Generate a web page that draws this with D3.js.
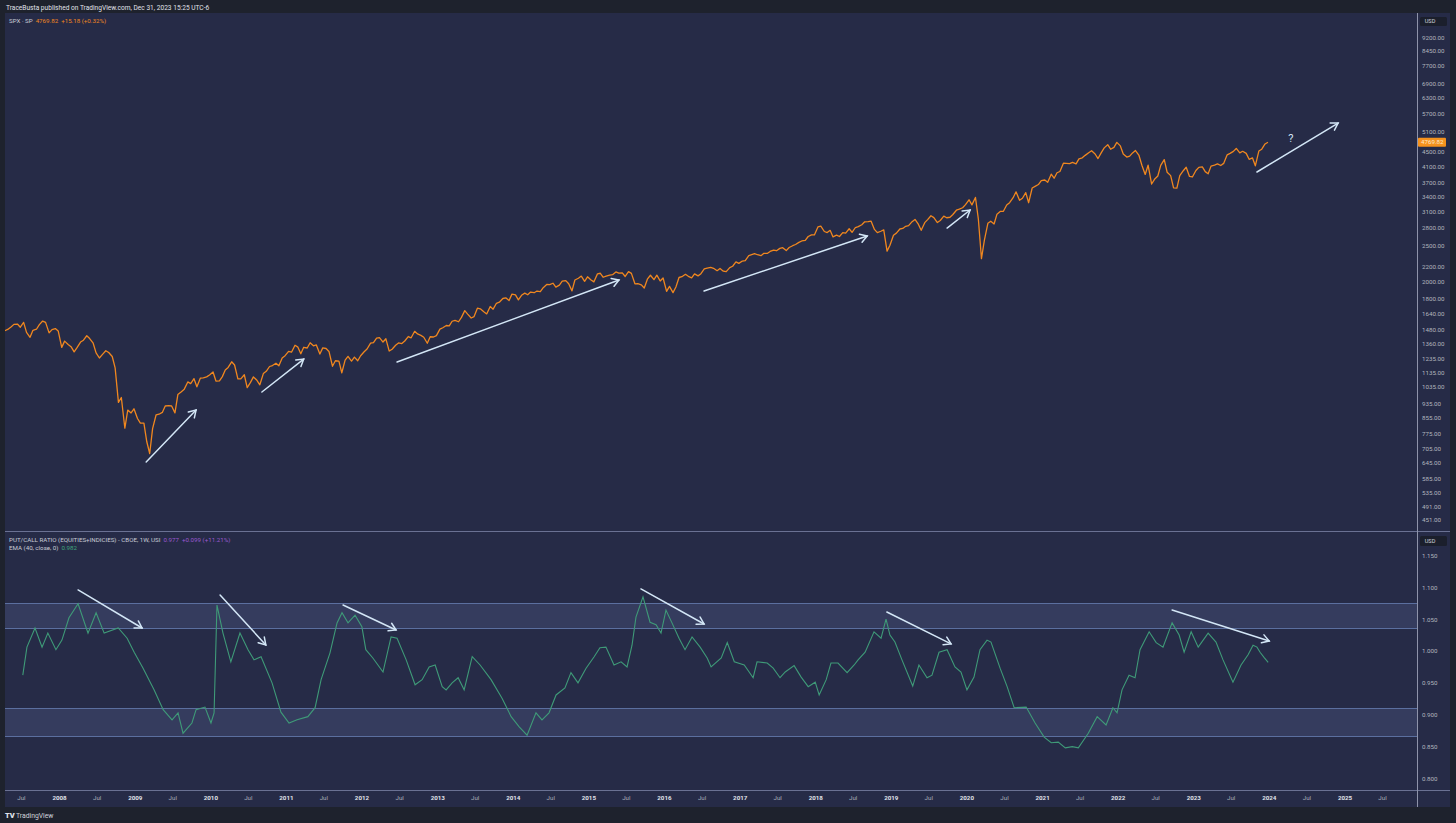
<!DOCTYPE html>
<html><head><meta charset="utf-8">
<script src="https://cdn.jsdelivr.net/npm/d3@7"></script>
<style>
html,body{margin:0;padding:0;background:#1e222d;overflow:hidden;}
svg{display:block;font-family:Roboto,"Open Sans",sans-serif;}
</style></head><body>
<svg id="c" width="1456" height="823"></svg>
<script>
// ---------- DATA ----------
// S&P 500 closes, two per month (mid-month, month-end); 2007 starts in April
const spx2007 = [1470,1482,1505,1530,1533,1503,1549,1455,1411,1474,1484,1527,1562,1549,1451,1481,1490,1468];
const spx2008 = [1325,1378,1350,1331,1288,1323,1370,1386,1425,1400,1360,1280,1240,1267,1298,1283,1252,1166,940,969,800,896,880,903];
const spx2009 = [850,826,826,735,683,798,870,873,883,919,921,919,880,987,1005,1021,1068,1057,1090,1036,1094,1096,1102,1115];
const spx2010 = [1136,1074,1075,1104,1150,1169,1211,1187,1088,1089,1117,1031,1065,1102,1079,1049,1125,1141,1176,1183,1200,1181,1240,1258];
const spx2011 = [1293,1286,1343,1327,1273,1326,1320,1364,1338,1345,1271,1321,1316,1292,1178,1219,1216,1131,1224,1253,1216,1247,1219,1258];
const spx2012 = [1289,1312,1361,1366,1404,1408,1370,1398,1295,1310,1343,1362,1357,1379,1418,1407,1465,1441,1428,1412,1360,1416,1414,1426];
const spx2013 = [1485,1498,1519,1515,1560,1569,1555,1598,1667,1631,1592,1606,1692,1686,1656,1633,1710,1682,1745,1757,1798,1806,1775,1848];
const spx2014 = [1839,1783,1838,1859,1841,1872,1864,1884,1878,1924,1963,1960,1978,1931,1955,2003,2010,1972,1886,2018,2040,2068,2002,2059];
const spx2015 = [2019,1995,2097,2105,2053,2068,2081,2086,2123,2107,2110,2063,2127,2104,1971,1972,1958,1920,2033,2079,2023,2080,2005,2044];
const spx2016 = [1880,1940,1865,1932,2050,2060,2091,2065,2046,2097,2071,2099,2162,2174,2184,2171,2139,2168,2133,2126,2181,2199,2259,2239];
const spx2017 = [2272,2279,2351,2364,2378,2363,2349,2384,2382,2412,2433,2423,2459,2470,2425,2472,2500,2519,2553,2575,2585,2648,2675,2674];
const spx2018 = [2810,2824,2732,2714,2752,2641,2670,2648,2712,2705,2779,2718,2801,2816,2850,2902,2904,2914,2768,2712,2736,2760,2417,2507];
const spx2019 = [2670,2704,2775,2784,2822,2834,2905,2946,2860,2752,2887,2942,3014,2980,2889,2926,3007,2977,2986,3038,3120,3141,3169,3231];
const spx2020 = [3330,3226,3380,2954,2305,2585,2875,2912,2864,3044,3098,3100,3225,3271,3373,3500,3320,3363,3484,3270,3585,3622,3663,3756];
const spx2021 = [3768,3714,3907,3811,3943,3973,4185,4181,4174,4204,4166,4298,4327,4395,4468,4523,4433,4308,4471,4605,4698,4567,4620,4766];
const spx2022 = [4662,4432,4348,4374,4463,4530,4392,4132,3901,4132,3675,3785,3863,4130,4280,3955,3873,3586,3583,3872,3993,4080,3852,3840];
const spx2023 = [3999,4077,4090,3970,3917,4109,4137,4169,4124,4180,4410,4450,4505,4589,4464,4508,4450,4288,4328,4117,4514,4568,4719,4769.82];
const spxYears = [2007,2008,2009,2010,2011,2012,2013,2014,2015,2016,2017,2018,2019,2020,2021,2022,2023];
const spxSeries = [spx2007,spx2008,spx2009,spx2010,spx2011,spx2012,spx2013,spx2014,spx2015,spx2016,spx2017,spx2018,spx2019,spx2020,spx2021,spx2022,spx2023];

// EMA(40) of the CBOE put/call ratio
const pcDates = ["2007-07-10","2007-07-30","2007-09-07","2007-10-11","2007-11-08","2007-12-17","2008-01-15","2008-02-18","2008-04-02","2008-05-20","2008-06-28","2008-08-06","2008-10-13","2008-11-25","2008-12-29","2009-02-10","2009-04-04","2009-05-18","2009-06-30","2009-07-29","2009-08-22","2009-10-04","2009-10-24","2009-12-06","2010-01-04","2010-01-19","2010-02-02","2010-03-03","2010-04-10","2010-05-24","2010-07-02","2010-07-31","2010-09-03","2010-10-26","2010-12-08","2011-01-16","2011-02-24","2011-04-17","2011-05-22","2011-06-20","2011-08-02","2011-09-05","2011-09-29","2011-10-28","2011-12-01","2012-01-03","2012-01-22","2012-02-25","2012-04-14","2012-05-23","2012-06-21","2012-08-04","2012-09-16","2012-10-20","2012-11-23","2012-12-22","2013-01-25","2013-02-13","2013-03-14","2013-04-12","2013-05-11","2013-06-19","2013-07-27","2013-09-18","2013-11-10","2013-12-24","2014-02-01","2014-03-11","2014-04-23","2014-05-22","2014-06-25","2014-07-29","2014-09-10","2014-10-09","2014-11-12","2014-12-21","2015-01-29","2015-02-26","2015-03-27","2015-05-05","2015-06-08","2015-07-07","2015-07-31","2015-08-19","2015-09-22","2015-10-26","2015-11-24","2015-12-18","2016-01-11","2016-02-09","2016-03-14","2016-04-12","2016-05-16","2016-06-24","2016-07-28","2016-08-16","2016-10-04","2016-11-02","2016-12-06","2017-01-23","2017-03-07","2017-03-26","2017-05-14","2017-06-12","2017-07-15","2017-08-09","2017-09-21","2017-10-25","2017-11-28","2018-01-01","2018-01-20","2018-02-23","2018-03-18","2018-04-21","2018-06-04","2018-07-08","2018-07-27","2018-08-30","2018-10-12","2018-11-15","2018-12-09","2018-12-28","2019-01-21","2019-02-24","2019-04-17","2019-05-17","2019-06-25","2019-07-19","2019-08-22","2019-09-30","2019-11-07","2019-12-06","2020-01-04","2020-02-07","2020-03-07","2020-04-10","2020-04-29","2020-06-12","2020-07-16","2020-08-19","2020-10-16","2020-11-28","2021-01-11","2021-02-14","2021-03-20","2021-04-23","2021-05-27","2021-06-25","2021-08-12","2021-09-24","2021-11-06","2021-12-09","2021-12-29","2022-01-22","2022-02-25","2022-03-26","2022-04-19","2022-06-02","2022-07-06","2022-08-08","2022-09-21","2022-10-25","2022-11-18","2022-12-22","2023-01-25","2023-03-14","2023-04-21","2023-05-25","2023-07-12","2023-08-20","2023-09-23","2023-10-17","2023-11-05","2023-11-20","2023-12-09","2023-12-29"];
const pcValues = [0.962,1.006,1.036,1.006,1.028,1.002,1.017,1.052,1.074,1.028,1.060,1.028,1.036,1.020,0.998,0.973,0.939,0.908,0.892,0.903,0.871,0.887,0.908,0.912,0.887,0.903,1.072,1.028,0.983,1.028,1.002,0.986,0.991,0.950,0.904,0.887,0.892,0.897,0.911,0.955,0.997,1.044,1.060,1.044,1.056,1.038,1.002,0.989,0.967,1.022,1.020,0.986,0.947,0.955,0.975,0.978,0.944,0.939,0.950,0.958,0.939,0.991,0.978,0.955,0.926,0.897,0.881,0.868,0.903,0.892,0.903,0.931,0.942,0.966,0.950,0.973,0.991,1.005,1.006,0.978,0.983,0.975,1.009,1.053,1.085,1.045,1.041,1.028,1.064,1.044,1.020,1.002,1.022,1.006,0.989,0.975,0.989,1.013,0.983,0.978,0.958,0.983,0.981,0.973,0.958,0.967,0.977,0.959,0.944,0.951,0.931,0.955,0.981,0.981,0.966,0.978,0.986,0.998,1.030,1.020,1.050,1.025,1.014,0.986,0.945,0.978,0.958,0.962,0.998,1.002,0.975,0.967,0.939,0.959,1.002,1.017,1.014,0.973,0.944,0.911,0.912,0.887,0.865,0.856,0.857,0.848,0.850,0.848,0.871,0.897,0.884,0.911,0.903,0.939,0.962,0.958,1.002,1.030,1.013,1.006,1.044,1.025,0.998,1.030,1.006,1.028,1.014,0.986,0.951,0.978,0.994,1.009,1.006,0.998,0.990,0.982];

// shaded zones on the put/call pane [low, high]
const pcZones = [[1.036, 1.075], [0.866, 0.910]];

// tick labels
const spxTicks = [451,491,535,585,645,705,775,855,935,1035,1135,1235,1360,1480,1640,1800,2000,2200,2500,2800,3100,3400,3700,4100,4500,5100,5700,6300,6900,7700,8450,9200];
const pcTicks = [0.80,0.85,0.90,0.95,1.00,1.05,1.10,1.15];
const tickYears = [2007,2008,2009,2010,2011,2012,2013,2014,2015,2016,2017,2018,2019,2020,2021,2022,2023,2024,2025];

// hand-drawn arrows [startDate, startValue, endDate, endValue]
const spxArrows = [
  ["2009-02-25",648,"2009-10-24",896],
  ["2010-09-07",1003,"2011-03-28",1232],
  ["2012-06-21",1209,"2015-05-29",2018],
  ["2016-07-13",1884,"2018-09-09",2656],
  ["2019-09-30",2791,"2020-01-19",3124],
  ["2023-11-05",3961,"2024-12-01",5377]
];
const pcArrows = [
  ["2008-04-02",1.0956,"2009-02-05",1.036],
  ["2010-02-17",1.0878,"2010-09-26",1.0094],
  ["2011-10-04",1.0721,"2012-06-16",1.0329],
  ["2015-09-12",1.0972,"2016-07-13",1.0423],
  ["2018-12-13",1.0611,"2019-10-19",1.011],
  ["2022-09-21",1.0643,"2024-01-03",1.0157]
];
const questionMark = ["2024-04-17", 4899];

// ---------- CHART ----------
const parse = d3.timeParse("%Y-%m-%d");
const spxData = [];
spxSeries.forEach((arr, k) => {
  const yr = spxYears[k], m0 = yr === 2007 ? 3 : 0;
  arr.forEach((v, i) => spxData.push({d: new Date(yr, m0 + Math.floor(i / 2), i % 2 ? 28 : 14), v}));
});
const pcData = pcDates.map((s, i) => ({d: parse(s), v: pcValues[i]}));

const svg = d3.select("#c");
const PL = 5, PR = 1417, TOP = 13, SEP = 531, BOT = 790, END = 807, RIGHT = 1450;

svg.append("rect").attr("width", 1456).attr("height", 823).attr("fill", "#1e222d");
svg.append("rect").attr("x", PL).attr("y", TOP).attr("width", RIGHT - PL).attr("height", END - TOP).attr("fill", "#262b47");

const x = d3.scaleTime().domain([new Date(2007, 3, 15), new Date(2025, 11, 17)]).range([PL, PR]);
const yTop = d3.scaleLog().domain([423.7, 10690]).range([530, TOP]);
const yBot = d3.scaleLinear().domain([0.782, 1.1865]).range([BOT, SEP + 1]);

const defs = svg.append("defs");
defs.append("clipPath").attr("id", "clipTop").append("rect").attr("x", PL).attr("y", TOP).attr("width", PR - PL).attr("height", SEP - TOP);
defs.append("clipPath").attr("id", "clipBot").append("rect").attr("x", PL).attr("y", SEP + 1).attr("width", PR - PL).attr("height", BOT - SEP - 1);

// zones
const gz = svg.append("g").attr("clip-path", "url(#clipBot)");
pcZones.forEach(([lo, hi]) => {
  gz.append("rect").attr("x", PL).attr("width", PR - PL).attr("y", yBot(hi)).attr("height", yBot(lo) - yBot(hi)).attr("fill", "#353c5e");
  [lo, hi].forEach(v => gz.append("line").attr("x1", PL).attr("x2", PR).attr("y1", Math.round(yBot(v)) + 0.5).attr("y2", Math.round(yBot(v)) + 0.5).attr("stroke", "#5b6f9f").attr("stroke-width", 1));
});

// lines
svg.append("path").datum(pcData).attr("clip-path", "url(#clipBot)")
  .attr("d", d3.line().x(d => x(d.d)).y(d => yBot(d.v)))
  .attr("fill", "none").attr("stroke", "#3f9a78").attr("stroke-width", 1.1);
svg.append("path").datum(spxData).attr("clip-path", "url(#clipTop)")
  .attr("d", d3.line().x(d => x(d.d)).y(d => yTop(d.v)))
  .attr("fill", "none").attr("stroke", "#f0871f").attr("stroke-width", 1.3).attr("stroke-linejoin", "round");

// arrows
function drawArrow(g, x0, y0, x1, y1) {
  const a = Math.atan2(y1 - y0, x1 - x0), len = 8, sp = 0.55;
  g.append("line").attr("x1", x0).attr("y1", y0).attr("x2", x1).attr("y2", y1);
  const p1 = [x1 + len * Math.cos(a + Math.PI - sp), y1 + len * Math.sin(a + Math.PI - sp)];
  const p2 = [x1 + len * Math.cos(a + Math.PI + sp), y1 + len * Math.sin(a + Math.PI + sp)];
  g.append("path").attr("d", `M${p1[0]},${p1[1]}L${x1},${y1}L${p2[0]},${p2[1]}`).attr("fill", "none");
}
const ga = svg.append("g").attr("stroke", "#d3e6f6").attr("stroke-width", 1.5).attr("stroke-linecap", "round");
spxArrows.forEach(a => drawArrow(ga, x(parse(a[0])), yTop(a[1]), x(parse(a[2])), yTop(a[3])));
pcArrows.forEach(a => drawArrow(ga, x(parse(a[0])), yBot(a[1]), x(parse(a[2])), yBot(a[3])));
svg.append("text").attr("x", x(parse(questionMark[0]))).attr("y", yTop(questionMark[1]))
  .attr("text-anchor", "middle").attr("dy", "0.35em").attr("fill", "#d3e6f6").attr("font-size", 11).text("?");

// frame lines
svg.append("line").attr("x1", PL).attr("x2", RIGHT).attr("y1", SEP + 0.5).attr("y2", SEP + 0.5).attr("stroke", "#6a7193").attr("stroke-width", 1);
svg.append("line").attr("x1", PL).attr("x2", RIGHT).attr("y1", BOT + 0.5).attr("y2", BOT + 0.5).attr("stroke", "#6a7193").attr("stroke-width", 1);
svg.append("line").attr("x1", PR + 0.5).attr("x2", PR + 0.5).attr("y1", TOP).attr("y2", END).attr("stroke", "#8e93aa").attr("stroke-width", 1);

// axes
const axTop = svg.append("g").attr("transform", `translate(${PR},0)`)
  .call(d3.axisRight(yTop).tickValues(spxTicks).tickFormat(d => d.toFixed(2)).tickSize(0).tickPadding(5));
const axBot = svg.append("g").attr("transform", `translate(${PR},0)`)
  .call(d3.axisRight(yBot).tickValues(pcTicks).tickFormat(d => d.toFixed(3)).tickSize(0).tickPadding(5));
const timeTicks = [];
tickYears.forEach(y => { if (y > 2007) timeTicks.push(new Date(y, 0, 1)); timeTicks.push(new Date(y, 6, 1)); });
const axTime = svg.append("g").attr("transform", `translate(0,${BOT})`)
  .call(d3.axisBottom(x).tickValues(timeTicks).tickFormat(d => d.getMonth() === 6 ? "Jul" : String(d.getFullYear())).tickSize(0).tickPadding(6));
[axTop, axBot, axTime].forEach(g => {
  g.select(".domain").remove();
  g.selectAll("text").attr("fill", "#b2b5be").attr("font-size", 6.2).attr("font-family", "Roboto, sans-serif");
});
axTime.selectAll("text").attr("fill", d => d.getMonth() === 6 ? "#a9acb8" : "#e0e3eb").attr("font-weight", d => d.getMonth() === 6 ? 400 : 700);

// USD boxes
[[17, 25], [536, 545]].forEach(([y0, y1]) => {
  svg.append("rect").attr("x", 1420).attr("y", y0).attr("width", 27).attr("height", y1 - y0 + 1).attr("rx", 1.5).attr("fill", "#1b1f2c");
  svg.append("text").attr("x", 1430).attr("y", (y0 + y1) / 2 + 0.5).attr("dy", "0.35em").attr("text-anchor", "middle")
    .attr("fill", "#d1d4dc").attr("font-size", 5.6).text("USD");
});

// last price badge
const lastV = spxData[spxData.length - 1].v;
svg.append("rect").attr("x", 1418).attr("y", yTop(lastV) - 4.5).attr("width", 28).attr("height", 9).attr("rx", 1).attr("fill", "#f5921e");
svg.append("text").attr("x", 1421).attr("y", yTop(lastV)).attr("dy", "0.35em").attr("fill", "#fde7c8").attr("font-size", 6.2).text(lastV.toFixed(2));

// headers
svg.append("text").attr("x", 6).attr("y", 9.5).attr("fill", "#e0e3eb").attr("font-size", 6.6)
  .text("TraceBusta published on TradingView.com, Dec 31, 2023 15:25 UTC-6");
const h1 = svg.append("text").attr("x", 9).attr("y", 22.5).attr("font-size", 6.2);
h1.append("tspan").attr("fill", "#c9ccd6").text("SPX · SP");
h1.append("tspan").attr("dx", 3).attr("fill", "#f0871f").text("4769.82");
h1.append("tspan").attr("dx", 3).attr("fill", "#f0871f").text("+15.18 (+0.32%)");
const h2 = svg.append("text").attr("x", 9).attr("y", 542).attr("font-size", 6.2);
h2.append("tspan").attr("fill", "#c9ccd6").text("PUT/CALL RATIO (EQUITIES+INDICIES) - CBOE, 1W, USI");
h2.append("tspan").attr("dx", 3).attr("fill", "#9b59d0").text("0.977");
h2.append("tspan").attr("dx", 3).attr("fill", "#9b59d0").text("+0.099 (+11.21%)");
const h3 = svg.append("text").attr("x", 9).attr("y", 550).attr("font-size", 6.2);
h3.append("tspan").attr("fill", "#c9ccd6").text("EMA (40, close, 0)");
h3.append("tspan").attr("dx", 3).attr("fill", "#3fa57c").text("0.982");

// footer
svg.append("text").attr("x", 5).attr("y", 817.5).attr("fill", "#e0e3eb").attr("font-size", 7.5).attr("font-weight", 900).text("TV");
svg.append("text").attr("x", 16).attr("y", 817.5).attr("fill", "#d1d4dc").attr("font-size", 6.8).text("TradingView");
</script>
</body></html>
